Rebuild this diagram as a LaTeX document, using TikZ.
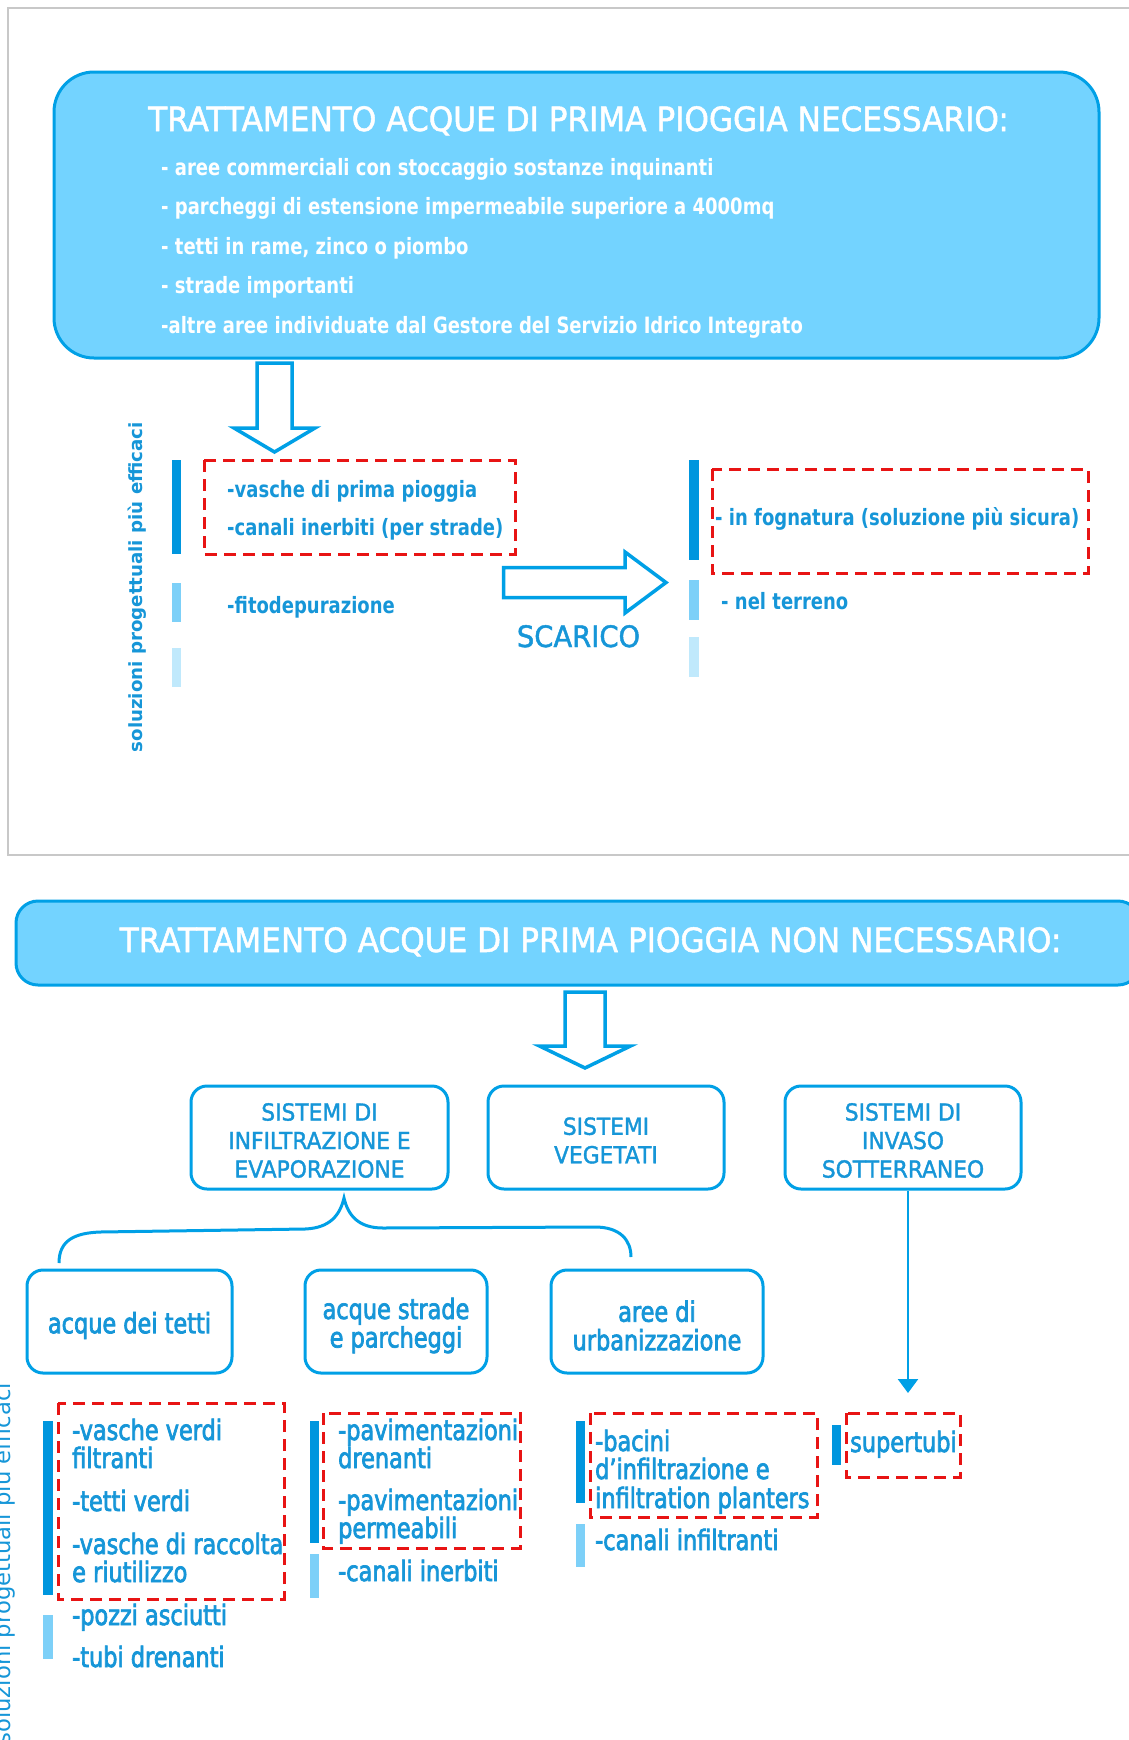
\documentclass[tikz,border=0pt]{standalone}
\usepackage{fontspec}
\setmainfont{DejaVu Sans}
\newfontfamily\headfont{DejaVu Sans}[FakeStretch=0.93, FakeBold=1.5]
\newfontfamily\itemfont{DejaVu Sans}[FakeStretch=0.8]
\newfontfamily\listfont{DejaVu Sans}[FakeStretch=0.8, FakeBold=2.5]
\usepackage{xcolor}
\usetikzlibrary{positioning,arrows.meta}

\definecolor{txtblue}{RGB}{22,150,216}
\definecolor{barblue}{RGB}{0,150,222}
\definecolor{barlight}{RGB}{125,208,248}
\definecolor{barpale}{RGB}{192,233,252}
\definecolor{boxfill}{RGB}{115,211,255}
\definecolor{boxline}{RGB}{0,160,230}
\definecolor{dashred}{RGB}{232,20,20}
\definecolor{framegray}{RGB}{200,200,200}

\tikzset{
    headtext/.style={inner sep=0, anchor=base, font=\headfont\fontsize{33.5}{40}\selectfont},
    boxitem/.style={inner sep=0, anchor=base west, text=white, font=\itemfont\bfseries\fontsize{22.5}{27}\selectfont},
    solitem/.style={inner sep=0, anchor=base west, text=txtblue, font=\itemfont\bfseries\fontsize{22.5}{27}\selectfont},
    bottomitem/.style={inner sep=0, anchor=base west, text=txtblue, font=\listfont\fontsize{28}{34}\selectfont},
    redbox/.style={draw=dashred, line width=3pt, dash pattern=on 12pt off 7pt},
    hollow/.style={draw=boxline, line width=3.5pt, fill=white, line join=miter},
    sysbox/.style={draw=boxline, line width=3pt, rounded corners=16pt, fill=white, minimum height=103pt, inner sep=0},
    systext/.style={align=center, text=txtblue, inner sep=0, font=\headfont\fontsize{23.4}{28.5}\selectfont},
    subtext/.style={systext, font=\listfont\fontsize{28}{28.5}\selectfont},
    thinarrow/.style={draw=boxline, line width=2.5pt, -{Triangle[width=20pt,length=14pt]}},
    bracket/.style={draw=boxline, line width=3pt}
}

\begin{document}
\begin{tikzpicture}[x=1pt,y=-1pt]
    \useasboundingbox (0,0) rectangle (1129,1740);
    \fill[white] (0,0) rectangle (1129,1740);

    % Upper panel frame
    \draw[framegray, line width=1.5pt] (8,8) rectangle (1140,855);

    % Box: treatment needed
    \node[draw=boxline, line width=3pt, fill=boxfill, rounded corners=40pt,
          minimum width=1045pt, minimum height=286pt, inner sep=0] (necbox) at (576.5,215) {};
    \node[headtext, text=white] (nectitle) at (578.5,131) {TRATTAMENTO ACQUE DI PRIMA PIOGGIA NECESSARIO:};
    \foreach \t [count=\i] in {- aree commerciali con stoccaggio sostanze inquinanti,
            - parcheggi di estensione impermeabile superiore a 4000mq,
            {- tetti in rame, zinco o piombo},
            - strade importanti,
            -altre aree individuate dal Gestore del Servizio Idrico Integrato}
        \node[boxitem] (need\i) at (161,135.5+39.5*\i) {\t};

    % Hollow arrow down
    \coordinate (downA) at (274.5,363);
    \draw[hollow] (downA) -- ++(17.5,0) -- ++(0,65) -- ++(23,0) -- ++(-40.5,24)
        -- ++(-40.5,-24) -- ++(23,0) -- ++(0,-65) -- cycle;

    % Vertical label
    \node[rotate=90, anchor=base east, inner sep=0, text=txtblue,
          font=\bfseries\fontsize{18.2}{22}\selectfont] (soltop) at (142,422) {soluzioni progettuali più efficaci};

    % Bars, left
    \fill[barblue] (172,460) rectangle (181,554);
    \fill[barlight] (172,583) rectangle (181,622);
    \fill[barpale] (172,648) rectangle (181,687);
    % Bars, right
    \fill[barblue] (689,460) rectangle (699,560);
    \fill[barlight] (689,580) rectangle (699,620);
    \fill[barpale] (689,637) rectangle (699,677);

    % Solutions
    \draw[redbox] (204,460) rectangle (515,554);
    \node[solitem] (vasche) at (227,497) {-vasche di prima pioggia};
    \node[solitem] (canali) at (227,535) {-canali inerbiti (per strade)};
    \node[solitem] (fito) at (227,613) {-fitodepurazione};

    \draw[redbox] (712,469) rectangle (1088,573);
    \node[solitem] (fogna) at (715,525) {- in fognatura (soluzione più sicura)};
    \node[solitem] (terreno) at (721,609) {- nel terreno};

    % Hollow arrow right
    \coordinate (scaricoA) at (503.5,582.5);
    \draw[hollow] (scaricoA) -- ++(0,-15) -- ++(121.5,0) -- ++(0,-15.5) -- ++(41,30.5)
        -- ++(-41,30.5) -- ++(0,-15.5) -- ++(-121.5,0) -- cycle;
    \node[inner sep=0, anchor=base, text=txtblue, font=\headfont\fontsize{29.5}{35}\selectfont] (scarico) at (578.5,647) {SCARICO};

    % Banner: treatment not needed
    \node[draw=boxline, line width=3pt, fill=boxfill, rounded corners=22pt,
          minimum width=1124pt, minimum height=84pt, inner sep=0] (nonbox) at (578,943) {};
    \node[headtext, text=white] (nontitle) at (590.5,952) {TRATTAMENTO ACQUE DI PRIMA PIOGGIA NON NECESSARIO:};

    % Hollow arrow down
    \coordinate (downB) at (585,992);
    \draw[hollow] (downB) -- ++(20,0) -- ++(0,54) -- ++(25.5,0) -- ++(-45.5,22)
        -- ++(-45.5,-22) -- ++(25.5,0) -- ++(0,-54) -- cycle;

    % Systems
    \node[sysbox, minimum width=257pt] (infil) at (319.5,1137.5) {};
    \node[sysbox, minimum width=236pt] (veget) at (606,1137.5) {};
    \node[sysbox, minimum width=236pt] (invaso) at (903,1137.5) {};
    \node[systext] (infiltext) at ([yshift=-3pt]infil.center) {SISTEMI DI\\INFILTRAZIONE E\\EVAPORAZIONE};
    \node[systext] (vegettext) at ([yshift=-3pt]veget.center) {SISTEMI\\VEGETATI};
    \node[systext] (invasotext) at ([yshift=-3pt]invaso.center) {SISTEMI DI\\INVASO\\SOTTERRANEO};

    % Brace
    \draw[bracket] (59,1263) .. controls (59,1240) and (75,1233) .. (100,1232) -- (305,1229)
        .. controls (330,1228) and (340,1215) .. (344,1198)
        .. controls (348,1215) and (358,1228) .. (383,1228) -- (595,1227)
        .. controls (620,1227) and (631,1240) .. (631,1257);

    % Water sources
    \node[sysbox, minimum width=205pt] (tetti) at (129.5,1321.5) {};
    \node[sysbox, minimum width=182pt] (strade) at (396,1321.5) {};
    \node[sysbox, minimum width=212pt] (urban) at (657,1321.5) {};
    \node[subtext] (tettitext) at ([yshift=-4pt]tetti.center) {acque dei tetti};
    \node[subtext] (stradetext) at ([yshift=-4pt]strade.center) {acque strade\\e parcheggi};
    \node[subtext] (urbantext) at ([yshift=-4pt]urban.center) {aree di\\urbanizzazione};

    % Arrow to supertubi
    \coordinate (tubitip) at (908,1393);
    \draw[thinarrow] (invaso.south -| tubitip) -- (tubitip);

    % Vertical label, cut by the page
    \node[rotate=90, anchor=base east, inner sep=0, text=txtblue,
          font=\fontsize{22.7}{27}\selectfont] (solbottom) at (10,1383) {soluzioni progettuali più efficaci};

    % Column 1
    \fill[barblue] (43,1421) rectangle (53,1595);
    \fill[barlight] (43,1615) rectangle (53,1659);
    \draw[redbox] (58,1403) rectangle (284,1599);
    \foreach \y/\t [count=\i] in {1440/-vasche verdi, 1468/filtranti, 1511/-tetti verdi,
            1554/-vasche di raccolta, 1582/e riutilizzo, 1625/-pozzi asciutti, 1667/-tubi drenanti}
        \node[bottomitem] (listA\i) at (72,\y) {\t};

    % Column 2
    \fill[barblue] (310,1421) rectangle (319,1543);
    \fill[barlight] (310,1554) rectangle (319,1598);
    \draw[redbox] (323,1413) rectangle (520,1548);
    \foreach \y/\t [count=\i] in {1440/-pavimentazioni, 1468/drenanti, 1510/-pavimentazioni,
            1538/permeabili, 1581/-canali inerbiti}
        \node[bottomitem] (listB\i) at (338,\y) {\t};

    % Column 3
    \fill[barblue] (576,1421) rectangle (585,1503);
    \fill[barlight] (576,1524) rectangle (585,1567);
    \draw[redbox] (590,1413) rectangle (817,1517);
    \foreach \y/\t [count=\i] in {1451/-bacini, 1479/d’infiltrazione e, 1508/infiltration planters,
            1550/-canali infiltranti}
        \node[bottomitem] (listC\i) at (595,\y) {\t};

    % Column 4
    \fill[barblue] (832,1425) rectangle (841,1465);
    \draw[redbox] (846,1413) rectangle (960,1477);
    \node[bottomitem] (listD1) at (850,1452) {supertubi};
\end{tikzpicture}
\end{document}
